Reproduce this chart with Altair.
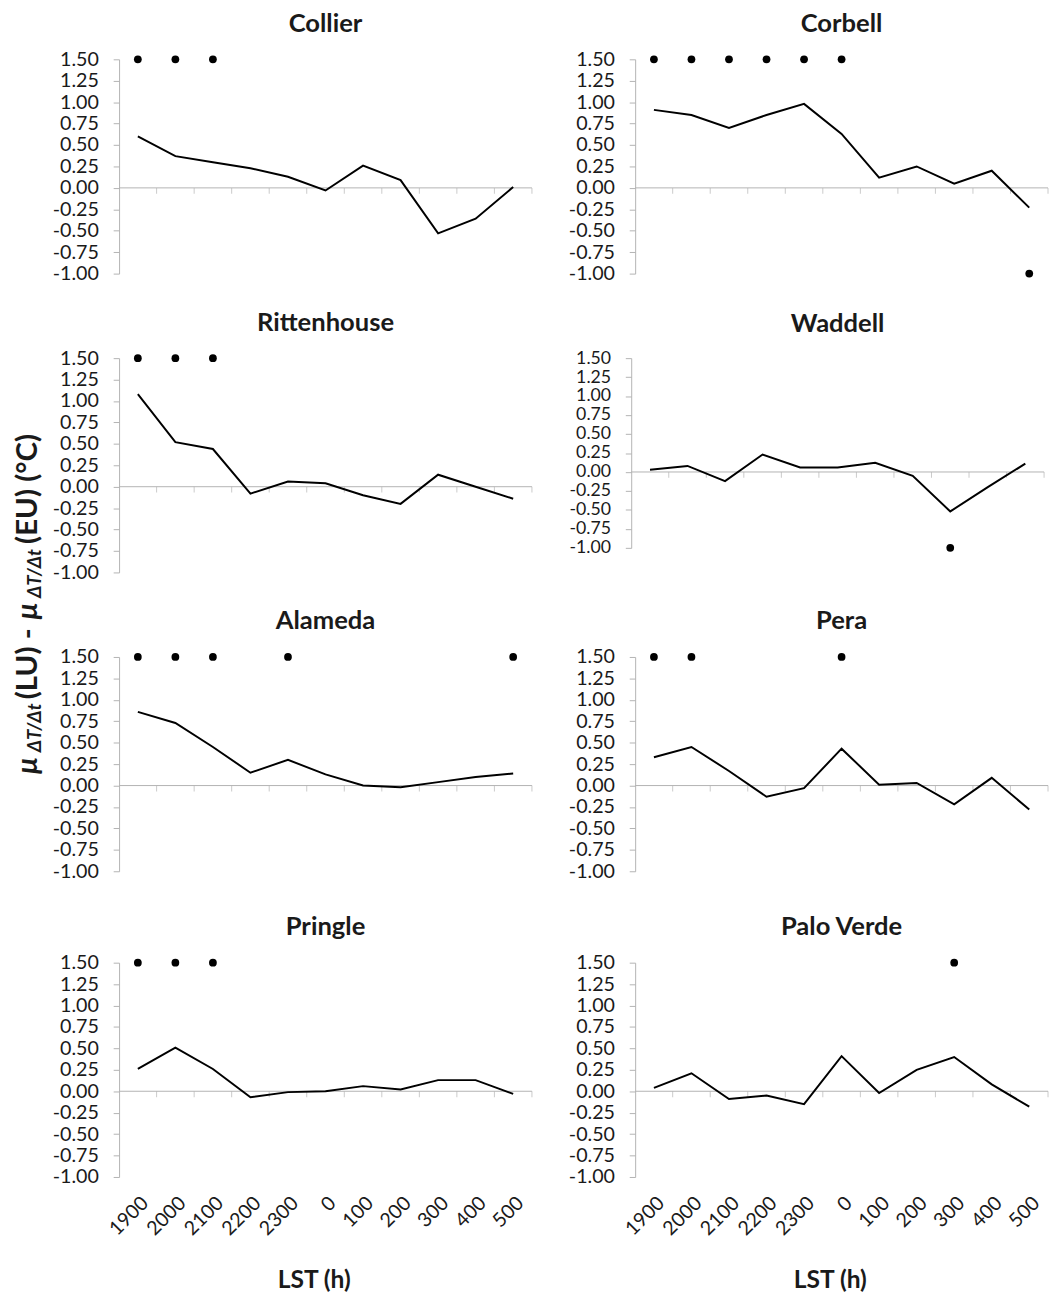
import json
import altair as alt
import pandas as pd

# ---------------- data ----------------
hours = ["1900", "2000", "2100", "2200", "2300", "0", "100", "200", "300", "400", "500"]

stations = ["Collier", "Corbell", "Rittenhouse", "Waddell",
            "Alameda", "Pera", "Pringle", "Palo Verde"]

collier = [0.60, 0.37, 0.30, 0.23, 0.13, -0.03, 0.26, 0.09, -0.53, -0.36, 0.01]
corbell = [0.91, 0.85, 0.70, 0.85, 0.98, 0.63, 0.12, 0.25, 0.05, 0.20, -0.23]
rittenhouse = [1.08, 0.52, 0.44, -0.08, 0.06, 0.04, -0.10, -0.20, 0.14, 0.00, -0.14]
waddell = [0.03, 0.08, -0.12, 0.23, 0.06, 0.06, 0.12, -0.05, -0.52, -0.20, 0.11]
alameda = [0.86, 0.73, 0.45, 0.15, 0.30, 0.13, 0.00, -0.02, 0.04, 0.10, 0.14]
pera = [0.33, 0.45, 0.17, -0.13, -0.03, 0.43, 0.01, 0.03, -0.22, 0.09, -0.28]
pringle = [0.26, 0.51, 0.26, -0.07, -0.01, 0.00, 0.06, 0.02, 0.13, 0.13, -0.03]
palo_verde = [0.04, 0.21, -0.09, -0.05, -0.15, 0.41, -0.02, 0.25, 0.40, 0.08, -0.18]

# significance markers: 1 = dot at top of axis, -1 = dot at bottom of axis
sig_collier = [1, 1, 1, 0, 0, 0, 0, 0, 0, 0, 0]
sig_corbell = [1, 1, 1, 1, 1, 1, 0, 0, 0, 0, -1]
sig_rittenhouse = [1, 1, 1, 0, 0, 0, 0, 0, 0, 0, 0]
sig_waddell = [0, 0, 0, 0, 0, 0, 0, 0, -1, 0, 0]
sig_alameda = [1, 1, 1, 0, 1, 0, 0, 0, 0, 0, 1]
sig_pera = [1, 1, 0, 0, 0, 1, 0, 0, 0, 0, 0]
sig_pringle = [1, 1, 1, 0, 0, 0, 0, 0, 0, 0, 0]
sig_palo_verde = [0, 0, 0, 0, 0, 0, 0, 0, 1, 0, 0]

y_ticks = [-1.00, -0.75, -0.50, -0.25, 0.00, 0.25, 0.50, 0.75, 1.00, 1.25, 1.50]
Y_MIN, Y_MAX = y_ticks[0], y_ticks[-1]

x_title = "LST (h)"

# ---------------- style ----------------
FONT = "Lato"
GREY = "#b3b3b3"
TXT = "#1a1a1a"
PW = 420          # plot width
PH = 218          # plot height


def panel(name, values, sig, bottom=False, height=PH, label_size=20):
    n = len(hours)
    idx = list(range(n))
    df = pd.DataFrame({"i": idx, "hour": hours, "v": values})
    sdf = pd.DataFrame({
        "i": [i for i, s in enumerate(sig) if s != 0],
        "y": [Y_MAX if s > 0 else Y_MIN for s in sig if s != 0],
    })
    zdf = pd.DataFrame({"z": [0.0]})
    bdf = pd.DataFrame({"b": [i + 0.5 for i in idx], "z": [0.0] * n})

    xscale = alt.Scale(domain=[-0.5, n - 0.5], nice=False, zero=False)
    yscale = alt.Scale(domain=[Y_MIN, Y_MAX], nice=False, zero=False)

    if bottom:
        xaxis = alt.Axis(values=idx, labelExpr=json.dumps(hours) + "[datum.value]",
                         labelAngle=-45, labelFont=FONT, labelFontSize=20,
                         labelColor=TXT, labelPadding=16, labelFlush=False,
                         labelOverlap=False, domain=False, ticks=False, grid=False,
                         title=x_title, titleFont=FONT, titleFontSize=25,
                         titleFontWeight="bold", titleColor=TXT, titlePadding=29,
                         titleX=PW / 2 - 12)
    else:
        xaxis = None

    yaxis = alt.Axis(values=y_ticks,
                     labelExpr="(datum.value < 0 ? '-' : '') + format(abs(datum.value), '.2f')",
                     labelFont=FONT, labelFontSize=label_size, labelColor=TXT,
                     labelPadding=15, labelOverlap=False, labelFlush=False,
                     domainColor=GREY, tickColor=GREY, tickSize=6, grid=False,
                     title=None)

    def X(f):
        return alt.X(f, type="quantitative", scale=xscale, axis=xaxis)

    def Y(f):
        return alt.Y(f, type="quantitative", scale=yscale, axis=yaxis)

    zero = alt.Chart(zdf).mark_rule(color=GREY, strokeWidth=1).encode(y=Y("z"))
    ticks = alt.Chart(bdf).mark_tick(orient="vertical", size=6, thickness=1,
                                     color=GREY, yOffset=3).encode(x=X("b"), y=Y("z"))
    line = alt.Chart(df).mark_line(color="black", strokeWidth=2).encode(x=X("i"), y=Y("v"))
    dots = alt.Chart(sdf).mark_circle(color="black", size=62, opacity=1).encode(x=X("i"), y=Y("y"))

    return alt.layer(zero, ticks, line, dots).properties(
        width=PW, height=height,
        title=alt.TitleParams(name, font=FONT, fontSize=26, fontWeight="bold",
                              color=TXT, offset=13),
    )


p_collier = panel(stations[0], collier, sig_collier)
p_corbell = panel(stations[1], corbell, sig_corbell)
p_ritt = panel(stations[2], rittenhouse, sig_rittenhouse)
p_waddell = panel(stations[3], waddell, sig_waddell, height=193, label_size=18)
p_alameda = panel(stations[4], alameda, sig_alameda)
p_pera = panel(stations[5], pera, sig_pera)
p_pringle = panel(stations[6], pringle, sig_pringle, bottom=True)
p_palo = panel(stations[7], palo_verde, sig_palo_verde, bottom=True)

HS = 36
rows_top = alt.vconcat(
    alt.hconcat(p_collier, p_corbell, spacing=HS),
    alt.hconcat(p_ritt, p_waddell, spacing=HS),
    alt.hconcat(p_alameda, p_pera, spacing=HS),
    spacing=27,
)
grid = alt.vconcat(rows_top, alt.hconcat(p_pringle, p_palo, spacing=HS), spacing=34)

# ---------------- y-axis title with subscripts ----------------
BASE_X = 29      # baseline of the main text (rotated)
SUB_X = 34       # baseline of subscripts
START_Y = 727    # bottom end of the title
segments = [
    # text, offset from bottom, size, italic, subscript
    ("\u03bc", 0, 30, True, False),
    ("\u0394T/\u0394t", 22, 19, True, True),
    ("(LU) -", 76, 30, False, False),
    ("\u03bc", 157, 30, True, False),
    ("\u0394T/\u0394t", 179, 19, True, True),
    ("(EU) (\u00b0C)", 234, 30, False, False),
]
tlayers = []
for txt, off, size, italic, sub in segments:
    tlayers.append(
        alt.Chart(pd.DataFrame({"t": [txt]})).mark_text(
            angle=270, align="left", baseline="alphabetic", font=FONT,
            fontSize=size, fontWeight="bold",
            fontStyle="italic" if italic else "normal", color=TXT,
        ).encode(
            text="t:N",
            x=alt.value(SUB_X if sub else BASE_X),
            y=alt.value(START_Y - off),
        )
    )
title_col = alt.layer(*tlayers).properties(width=42, height=900)

chart = alt.hconcat(title_col, grid, spacing=3).properties(
    padding={"left": 0, "top": -8, "right": 0, "bottom": 0}
).configure(font=FONT).configure_view(stroke="transparent", strokeWidth=0)

chart.save("out.html", embed_options={"renderer": "svg", "actions": False})
